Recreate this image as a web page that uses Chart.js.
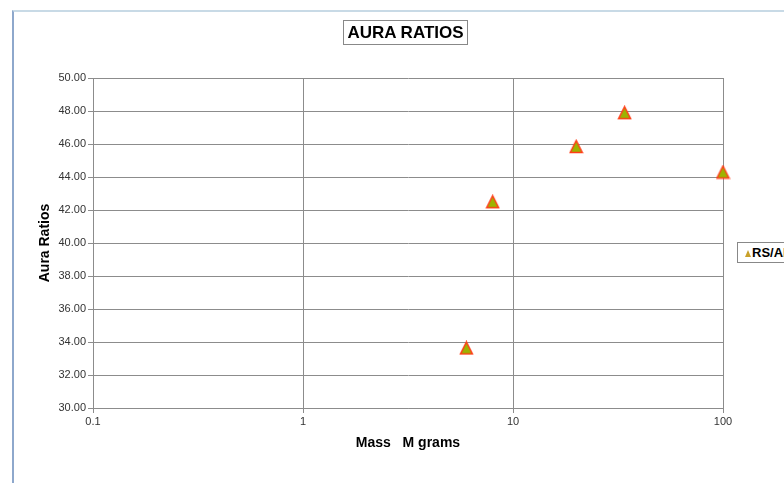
<!DOCTYPE html>
<html>
<head>
<meta charset="utf-8">
<title>Aura Ratios</title>
<script src="https://cdn.jsdelivr.net/npm/chart.js@4/dist/chart.umd.min.js"></script>
<style>
	html, body { margin: 0; padding: 0; background: #fff; overflow: hidden; }
	#wrap { position: relative; width: 784px; height: 483px; overflow: hidden; }
	#frame {
		position: absolute; left: 12px; top: 10px; width: 800px; height: 500px;
		border-left: 2px solid #8ea8cc; border-top: 2px solid #c8dae6;
	}
	#chart { position: absolute; left: 0; top: 0; }
	#title {
		position: absolute; left: 343px; top: 20px; width: 123px; height: 23px;
		border: 1px solid #888; box-sizing: content-box;
		font: bold 17px "Liberation Sans", Arial, sans-serif; color: #000;
		text-align: center; line-height: 23px;
	}
	#legend {
		position: absolute; left: 737px; top: 242px; width: 80px; height: 19px;
		border: 1px solid #888; background: #fff;
		font: bold 13px "Liberation Sans", Arial, sans-serif; color: #000;
		line-height: 19px; white-space: nowrap;
	}
	#legend .mark {
		display: inline-block; width: 0; height: 0; margin: 0 1px 0 7px;
		border-left: 3.5px solid transparent; border-right: 3.5px solid transparent;
		border-bottom: 7px solid #c9a12a; vertical-align: 0px;
	}
</style>
</head>
<body>
<div id="wrap">
	<div id="frame"></div>
	<canvas id="chart" width="784" height="483"></canvas>
	<div id="title">AURA RATIOS</div>
	<div id="legend"><span class="mark"></span><span id="legend-text"></span></div>
</div>
<script>
// Mass (grams) against measured aura ratio.
var seriesName = 'RS/AR';
var massGrams  = [ 6, 8, 20, 34, 100 ];
var auraRatios = [ 33.64, 42.5, 45.85, 47.9, 44.3 ];

// Axis ticks.
var xTicks = [ 0.1, 1, 10, 100 ];
var yTicks = [ 30, 32, 34, 36, 38, 40, 42, 44, 46, 48, 50 ];

var tickFont  = { family: '"Liberation Sans", Arial, sans-serif', size: 11 };
var titleFont = { family: '"Liberation Sans", Arial, sans-serif', size: 14, weight: 'bold', lineHeight: 1.2 };
var gridColor = '#8c8c8c';

document.getElementById( 'legend-text' ).textContent = seriesName;

/**
 * Builds a triangle marker centred on its bounding box, so the
 * point sits in the middle of the glyph rather than at its centroid.
 */
function makeTriangle( size, fill, stroke, lw ) {
	var c   = document.createElement( 'canvas' );
	c.width = c.height = size;
	var g   = c.getContext( '2d' );
	var p   = lw;
	g.beginPath();
	g.moveTo( size / 2, p );
	g.lineTo( size - p, size - p );
	g.lineTo( p, size - p );
	g.closePath();
	g.fillStyle = fill;
	g.fill();
	g.lineWidth   = lw;
	g.strokeStyle = stroke;
	g.lineJoin    = 'miter';
	g.stroke();
	return c;
}

var marker = makeTriangle( 15, '#9db300', '#ff3d17', 1.5 );

var points = massGrams.map( function ( m, i ) {
	return { x: m, y: auraRatios[ i ] };
} );

new Chart( document.getElementById( 'chart' ), {
	type: 'scatter',
	data: {
		datasets: [ {
			label: seriesName,
			data: points,
			pointStyle: marker,
			pointRadius: 7,
			pointHoverRadius: 7,
			clip: false,
		} ],
	},
	options: {
		responsive: false,
		animation: false,
		events: [],
		layout: { padding: { left: 0, right: 61, top: 78, bottom: 0 } },
		plugins: {
			legend: { display: false },
			tooltip: { enabled: false },
		},
		scales: {
			x: {
				type: 'logarithmic',
				min: 0.1,
				max: 100,
				afterBuildTicks: function ( scale ) {
					scale.ticks = xTicks.map( function ( v ) { return { value: v }; } );
				},
				afterFit: function ( scale ) { scale.height = 75; },
				ticks: {
					font: tickFont,
					color: '#333',
					padding: 2,
					maxRotation: 0,
					callback: function ( v ) { return String( v ); },
				},
				grid: { color: gridColor, lineWidth: 1, tickLength: 5, tickColor: gridColor },
				border: { color: gridColor, width: 1 },
				title: {
					display: true,
					text: 'Mass   M grams',
					font: titleFont,
					color: '#000',
					padding: { top: 0, bottom: 31.6 },
				},
			},
			y: {
				type: 'linear',
				min: 30,
				max: 50,
				afterBuildTicks: function ( scale ) {
					scale.ticks = yTicks.map( function ( v ) { return { value: v }; } );
				},
				afterFit: function ( scale ) { scale.width = 93; },
				ticks: {
					font: tickFont,
					color: '#333',
					padding: 2,
					callback: function ( v ) { return Number( v ).toFixed( 2 ); },
				},
				grid: { color: gridColor, lineWidth: 1, tickLength: 5, tickColor: gridColor },
				border: { color: gridColor, width: 1 },
				title: {
					display: true,
					text: 'Aura Ratios',
					font: titleFont,
					color: '#000',
					padding: { top: 36.6, bottom: 0 },
				},
			},
		},
	},
} );
</script>
</body>
</html>
